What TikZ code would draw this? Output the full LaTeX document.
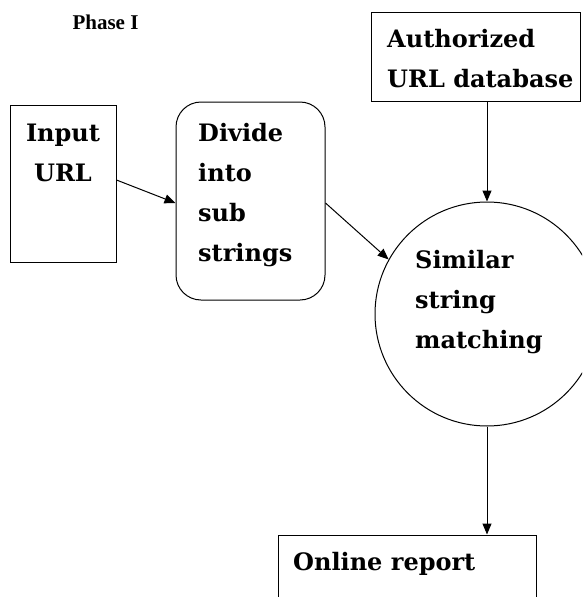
\documentclass[tikz,border=0pt]{standalone}
\usepackage{fontspec}
\usetikzlibrary{arrows.meta}
\newfontfamily\boxfont{DejaVu Serif}
\newfontfamily\phasefont{Liberation Serif}

\tikzset{
	shapebox/.style={draw, line width=1pt, inner sep=0pt, minimum width=#1},
	boxtext/.style={inner sep=0pt, align=left, font=\boxfont\bfseries\fontsize{24}{40}\selectfont},
	flow/.style={line width=1pt, -{Triangle[length=11pt,width=9pt]}}
}

\begin{document}
\begin{tikzpicture}[x=1pt, y=-1pt]
		%%%%% START %%%%%
		\useasboundingbox (0, 0) rectangle (582, 597);
		\clip (0, 0) rectangle (582, 597);
		
		\node[font=\phasefont\bfseries\fontsize{21}{24}\selectfont, inner sep=0pt] (phase) at (105.5, 22) {Phase I};
		
		\node[shapebox=106pt, minimum height=157pt] (url) at (63, 183.5) {};
		\node[boxtext, align=center] (urltxt) at (63, 152.5) {Input\\URL};
		
		\node[shapebox=149pt, minimum height=198pt, rounded corners=25pt] (divide) at (250.5, 201) {};
		\node[boxtext, anchor=west] (dividetxt) at (198, 195) {Divide\\into\\sub\\strings};
		
		\node[shapebox=209pt, minimum height=89pt] (authdb) at (475.5, 56.5) {};
		\node[boxtext, anchor=west] (authdbtxt) at (387, 59) {Authorized\\URL database};
		
		\node[draw, circle, line width=1pt, inner sep=0pt, minimum size=224pt] (match) at (487, 314) {};
		\node[boxtext, anchor=west] (matchtxt) at (415, 302) {Similar\\string\\matching};
		
		\node[shapebox=258pt, minimum height=85pt] (report) at (407, 577.5) {};
		\node[boxtext, anchor=west] (reporttxt) at (293, 564) {Online report};
		
		% connectors
		\draw[flow] ([yshift=3.5pt]url.east) -- ([yshift=-2pt]divide.west);
		\draw[flow] ([yshift=-2pt]divide.east) -- (match.151);
		\draw[flow] (authdb.south -| match.north) -- (match.north);
		\draw[flow] (match.south) -- (report.north -| match.south);
		
		%%%%% END %%%%%
\end{tikzpicture}
\end{document}
